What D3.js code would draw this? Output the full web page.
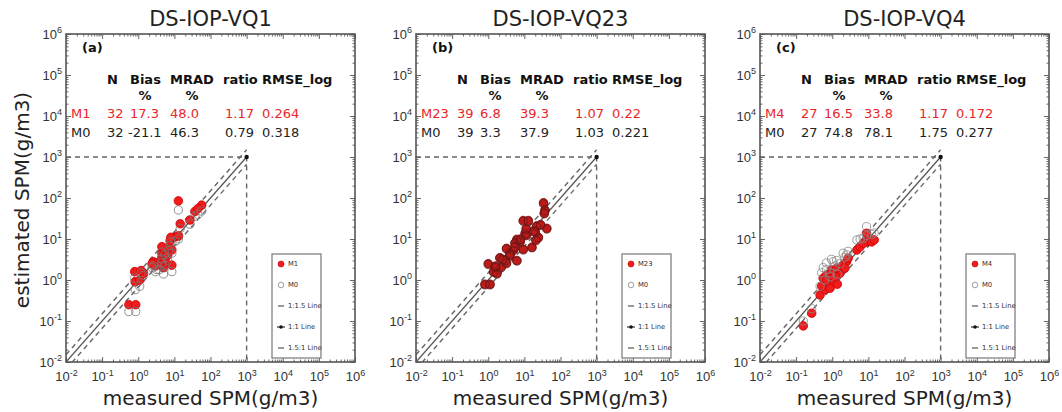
<!DOCTYPE html>
<html><head><meta charset="utf-8">
<script src="https://cdn.jsdelivr.net/npm/d3@7"></script>
<style>
body{margin:0;background:#fff}
svg{display:block;font-family:"DejaVu Sans",sans-serif}
</style>
</head><body>
<svg id="chart" width="1062" height="412"></svg>
<script>
// ---- panel text ----
const panelTitles = ["DS-IOP-VQ1", "DS-IOP-VQ23", "DS-IOP-VQ4"];
const panelTags = ["(a)", "(b)", "(c)"];
const modelNames = ["M1", "M23", "M4"];
const baseName = "M0";
const statsHeader = ["N", "Bias", "MRAD", "ratio", "RMSE_log"];
const statsModel = [
  ["32", "17.3", "48.0", "1.17", "0.264"],
  ["39", "6.8", "39.3", "1.07", "0.22"],
  ["27", "16.5", "33.8", "1.17", "0.172"]
];
const statsBase = [
  ["32", "-21.1", "46.3", "0.79", "0.318"],
  ["39", "3.3", "37.9", "1.03", "0.221"],
  ["27", "74.8", "78.1", "1.75", "0.277"]
];
const legendLabels = ["1:1.5 Line", "1:1 Line", "1.5:1 Line"];
const refRatios = [1.5, 1, 1 / 1.5];
const tickExponents = [-2, -1, 0, 1, 2, 3, 4, 5, 6];
const guideValue = 1000;
const axisLabelX = "measured SPM(g/m3)";
const axisLabelY = "estimated SPM(g/m3)";

// ---- matchups: [measured, estimated] ----
const vq1Model = [
  [0.55, 0.25], [0.85, 0.25], [0.82, 0.9], [1.1, 1.0], [0.8, 1.6], [1.4, 1.45],
  [1.2, 1.7], [2.6, 2.8], [3.2, 2.6], [3.0, 2.2], [5.0, 2.0], [8.5, 2.3],
  [4.5, 3.5], [5.5, 3.0], [4.5, 4.5], [5.5, 5.4], [8.5, 5.4], [7.0, 6.5],
  [4.5, 6.5], [7.6, 9.1], [10.5, 11.2], [8.0, 11.0], [13.0, 12.0], [14.5, 23.5],
  [12.9, 85], [27, 29], [37, 47], [57, 67], [45, 55], [3.8, 2.4], [2.4, 2.5], [6.5, 4.0]
];
const vq1Base = [
  [0.55, 0.17], [0.85, 0.17], [0.82, 0.58], [1.1, 0.7], [0.8, 1.1], [1.4, 1.3],
  [1.2, 1.5], [2.6, 2.2], [3.2, 1.8], [3.0, 1.6], [5.0, 1.4], [8.5, 1.6],
  [4.5, 2.6], [5.5, 2.3], [4.5, 3.3], [5.5, 4.2], [8.5, 4.5], [7.0, 5.2],
  [4.5, 4.8], [7.6, 7.0], [10.5, 8.8], [8.0, 8.5], [13.0, 10.0], [14.5, 18],
  [12.9, 51], [27, 23], [37, 36], [57, 48], [45, 40], [3.8, 1.8], [2.4, 2.0], [6.5, 3.0]
];
const vq23Model = [
  [33.9, 76.7], [37.2, 51.3], [35.5, 42.7], [9.3, 28.2], [12.9, 28.2], [21.9, 20.9],
  [41.7, 18.2], [20.0, 15.1], [10.5, 13.8], [24.5, 11.0], [20.9, 9.5], [6.2, 9.8],
  [5.5, 8.1], [16.2, 6.3], [9.3, 5.6], [3.2, 5.9], [5.0, 5.4], [4.0, 4.5],
  [2.1, 3.5], [3.0, 3.1], [6.2, 3.0], [1.0, 2.5], [1.55, 2.1], [2.3, 2.1],
  [1.4, 1.6], [0.81, 0.79], [1.12, 0.79], [1.74, 1.45], [3.2, 2.6], [7.6, 8.7],
  [11.5, 12.6], [5.5, 6.5], [7.9, 10.0], [17.8, 15.8], [4.0, 4.0], [2.5, 3.2],
  [28.2, 22.4], [1.6, 2.2], [11.2, 17.8]
];
const vq23Base = [
  [33.9, 72], [37.2, 49], [35.5, 41], [9.3, 27], [12.9, 27], [21.9, 20],
  [41.7, 17.5], [20.0, 14.6], [10.5, 13.2], [24.5, 10.6], [20.9, 9.1], [6.2, 9.4],
  [5.5, 7.8], [16.2, 6.1], [9.3, 5.4], [3.2, 5.7], [5.0, 5.2], [4.0, 4.3],
  [2.1, 3.4], [3.0, 3.0], [6.2, 2.9], [1.0, 2.4], [1.55, 2.0], [2.3, 2.0],
  [1.4, 1.55], [0.81, 0.76], [1.12, 0.76], [1.74, 1.4], [3.2, 2.5], [7.6, 8.4],
  [11.5, 12.1], [5.5, 6.3], [7.9, 9.6], [17.8, 15.2], [4.0, 3.9], [2.5, 3.1],
  [28.2, 21.6], [1.6, 2.1], [11.2, 17.2]
];
const vq4Model = [
  [0.158, 0.076], [0.27, 0.155], [0.46, 0.43], [0.63, 0.58], [0.51, 0.71], [0.87, 0.83],
  [1.38, 0.79], [0.56, 1.10], [0.69, 1.32], [1.05, 1.45], [1.62, 1.45], [0.95, 1.74],
  [1.32, 1.95], [2.0, 2.34], [2.5, 2.8], [2.75, 3.4], [4.8, 5.4], [5.9, 6.5],
  [8.9, 8.5], [12.3, 8.5], [14.5, 9.5], [7.2, 7.8], [8.9, 13.8], [0.69, 1.0],
  [0.87, 0.63], [1.2, 1.2], [2.24, 1.95]
];
const vq4Base = [
  [0.158, 0.10], [0.27, 0.2], [0.46, 0.7], [0.63, 1.0], [0.51, 1.5], [0.87, 1.5],
  [1.38, 1.4], [0.56, 2.0], [0.69, 2.6], [1.05, 2.8], [1.62, 2.5], [0.95, 3.2],
  [1.32, 3.0], [2.0, 4.5], [2.5, 4.1], [2.75, 5.0], [4.8, 9.5], [5.9, 10.0],
  [8.9, 12.0], [12.3, 13.0], [14.5, 14.0], [7.2, 10.5], [8.9, 20.0], [0.69, 1.8],
  [0.87, 1.2], [1.2, 2.2], [2.24, 3.6]
];
const modelSeries = [vq1Model, vq23Model, vq4Model];
const baseSeries = [vq1Base, vq23Base, vq4Base];

// ---- layout & style ----
const panelLeft = [66, 416, 760];
const plotTop = 34, pw = 289, ph = 328;
const red = "#e8262a";
const modelFill = ["#ee1c1c", "#bf1a1a", "#ee1c1c"];
const modelStroke = ["#d00000", "#7e1010", "#d00000"];
const baseStroke = ["#777", "#6a1818", "#888"];
const frameColor = "#555";

const svg = d3.select("#chart");
const x = d3.scaleLog().domain([1e-2, 1e6]).range([0, pw]);
const y = d3.scaleLog().domain([1e-2, 1e6]).range([ph, 0]);
const majors = tickExponents.map(e => Math.pow(10, e));
const minors = [];
tickExponents.slice(0, -1).forEach(e => {
  for (let k = 2; k <= 9; k++) minors.push(k * Math.pow(10, e));
});

function superscript(sel) {
  sel.each(function (d) {
    const t = d3.select(this);
    const e = Math.round(Math.log10(d));
    t.text(null);
    t.append("tspan").text("10");
    t.append("tspan").attr("dy", "-0.6em").attr("font-size", "9px").text(e);
  });
}

svg.append("text")
  .attr("transform", "translate(29,200) rotate(-90)")
  .attr("text-anchor", "middle")
  .attr("font-size", "20px").attr("fill", "#222")
  .text(axisLabelY);

const colX = [41, 64, 104, 159, 196];
const headerX = [41, 64, 104, 157, 196];

panelTitles.forEach((title, i) => {
  const g = svg.append("g").attr("transform", `translate(${panelLeft[i]},${plotTop})`);

  g.append("clipPath").attr("id", "clip" + i)
    .append("rect").attr("width", pw).attr("height", ph);

  // title and x label
  svg.append("text")
    .attr("x", panelLeft[i] + pw / 2).attr("y", 26)
    .attr("text-anchor", "middle").attr("font-size", "21px").attr("fill", "#222")
    .text(title);
  svg.append("text")
    .attr("x", panelLeft[i] + pw / 2).attr("y", 405)
    .attr("text-anchor", "middle").attr("font-size", "20px").attr("fill", "#222")
    .text(axisLabelX);

  const plot = g.append("g").attr("clip-path", `url(#clip${i})`);

  // guides at 10^3
  const guide = d3.line().x(d => x(d[0])).y(d => y(d[1]));
  plot.append("path")
    .attr("d", guide([[1e-2, guideValue], [guideValue, guideValue], [guideValue, 1e-2]]))
    .attr("fill", "none").attr("stroke", "#666").attr("stroke-width", 1.4)
    .attr("stroke-dasharray", "5,4");

  // 1:1 and ±1.5 lines
  refRatios.forEach(r => {
    plot.append("path")
      .attr("d", guide([[1e-2, 1e-2 * r], [guideValue, guideValue * r]]))
      .attr("fill", "none")
      .attr("stroke", r === 1 ? "#555" : "#666")
      .attr("stroke-width", r === 1 ? 1.3 : 1.4)
      .attr("stroke-dasharray", r === 1 ? null : "5,4");
  });
  plot.append("circle")
    .attr("cx", x(guideValue)).attr("cy", y(guideValue)).attr("r", 2.2)
    .attr("fill", "#111");

  // matchup points
  plot.append("g").selectAll("circle").data(modelSeries[i]).join("circle")
    .attr("cx", d => x(d[0])).attr("cy", d => y(d[1])).attr("r", 4.3)
    .attr("fill", modelFill[i]).attr("stroke", modelStroke[i]).attr("stroke-width", 0.8);
  plot.append("g").selectAll("circle").data(baseSeries[i]).join("circle")
    .attr("cx", d => x(d[0])).attr("cy", d => y(d[1])).attr("r", 4.1)
    .attr("fill", "none").attr("stroke", baseStroke[i]).attr("stroke-width", 0.8);

  // axes: ticks inside on all four sides
  const axStyle = sel => {
    sel.select(".domain").remove();
    sel.selectAll("line").attr("stroke", "#666");
  };
  const bottom = g.append("g").attr("transform", `translate(0,${ph})`)
    .call(d3.axisBottom(x).tickValues(majors).tickSizeInner(-5).tickSizeOuter(0).tickPadding(10));
  bottom.call(axStyle);
  bottom.selectAll("text").attr("font-size", "13px").attr("fill", "#333").call(superscript);
  g.append("g").attr("transform", `translate(0,${ph})`)
    .call(d3.axisBottom(x).tickValues(minors).tickSizeInner(-2.5).tickSizeOuter(0).tickFormat(""))
    .call(axStyle);

  const left = g.append("g")
    .call(d3.axisLeft(y).tickValues(majors).tickSizeInner(-5).tickSizeOuter(0).tickPadding(4));
  left.call(axStyle);
  left.selectAll("text").attr("font-size", "13px").attr("fill", "#333").call(superscript);
  g.append("g")
    .call(d3.axisLeft(y).tickValues(minors).tickSizeInner(-2.5).tickSizeOuter(0).tickFormat(""))
    .call(axStyle);

  [[d3.axisTop(x), `translate(0,0)`], [d3.axisRight(y), `translate(${pw},0)`]].forEach(([ax, tr]) => {
    g.append("g").attr("transform", tr)
      .call(ax.tickValues(majors).tickSizeInner(-5).tickSizeOuter(0).tickFormat(""))
      .call(axStyle);
  });
  g.append("g").call(d3.axisTop(x).tickValues(minors).tickSizeInner(-2.5).tickSizeOuter(0).tickFormat("")).call(axStyle);
  g.append("g").attr("transform", `translate(${pw},0)`)
    .call(d3.axisRight(y).tickValues(minors).tickSizeInner(-2.5).tickSizeOuter(0).tickFormat("")).call(axStyle);

  g.append("rect").attr("width", pw).attr("height", ph)
    .attr("fill", "none").attr("stroke", frameColor).attr("stroke-width", 1.6);

  // statistics table
  g.append("text").attr("x", 16).attr("y", 18)
    .attr("font-size", "13px").attr("font-weight", "bold").attr("fill", "#111")
    .text(panelTags[i]);
  statsHeader.forEach((h, j) => {
    g.append("text").attr("x", headerX[j]).attr("y", 50)
      .attr("font-size", "13px").attr("font-weight", "bold").attr("fill", "#111").text(h);
  });
  [1, 2].forEach(j => {
    g.append("text").attr("x", headerX[j] + (j === 1 ? 15 : 22)).attr("y", 66)
      .attr("text-anchor", "middle")
      .attr("font-size", "13px").attr("font-weight", "bold").attr("fill", "#111").text("%");
  });
  const rows = [[modelNames[i], statsModel[i], red, 84], [baseName, statsBase[i], "#222", 103]];
  rows.forEach(([name, vals, col, yy]) => {
    g.append("text").attr("x", 5).attr("y", yy)
      .attr("font-size", "13px").attr("fill", col).text(name);
    vals.forEach((v, j) => {
      g.append("text").attr("x", colX[j] - (v.startsWith("-") ? 2 : 0)).attr("y", yy)
        .attr("font-size", "13px").attr("fill", col).text(v);
    });
  });

  // legend
  const lg = g.append("g").attr("transform", `translate(${pw - 83},220)`);
  lg.append("rect").attr("width", 49).attr("height", 104)
    .attr("fill", "#fff").attr("stroke", "#777").attr("stroke-width", 1.2);
  const items = [
    { label: modelNames[i], kind: "fill" },
    { label: baseName, kind: "open" },
    { label: legendLabels[0], kind: "dash" },
    { label: legendLabels[1], kind: "solid" },
    { label: legendLabels[2], kind: "dash" }
  ];
  items.forEach((it, k) => {
    const yy = 10 + k * 21;
    const mx = 9;
    if (it.kind === "fill") {
      lg.append("circle").attr("cx", mx).attr("cy", yy).attr("r", 3)
        .attr("fill", "#ee1c1c").attr("stroke", "#d00000").attr("stroke-width", 0.6);
    } else if (it.kind === "open") {
      lg.append("circle").attr("cx", mx).attr("cy", yy).attr("r", 2.8)
        .attr("fill", "none").attr("stroke", "#777").attr("stroke-width", 0.7);
    } else if (it.kind === "dash") {
      lg.append("line").attr("x1", mx - 3).attr("x2", mx + 3).attr("y1", yy).attr("y2", yy)
        .attr("stroke", "#555").attr("stroke-width", 1.2);
    } else {
      lg.append("line").attr("x1", mx - 4).attr("x2", mx + 4).attr("y1", yy).attr("y2", yy)
        .attr("stroke", "#333").attr("stroke-width", 1.2);
      lg.append("circle").attr("cx", mx).attr("cy", yy).attr("r", 1.8).attr("fill", "#111");
    }
    lg.append("text").attr("x", mx + 7).attr("y", yy + 2.4)
      .attr("font-size", "6.8px").attr("fill", "#333").text(it.label);
  });
});
</script>
</body></html>
